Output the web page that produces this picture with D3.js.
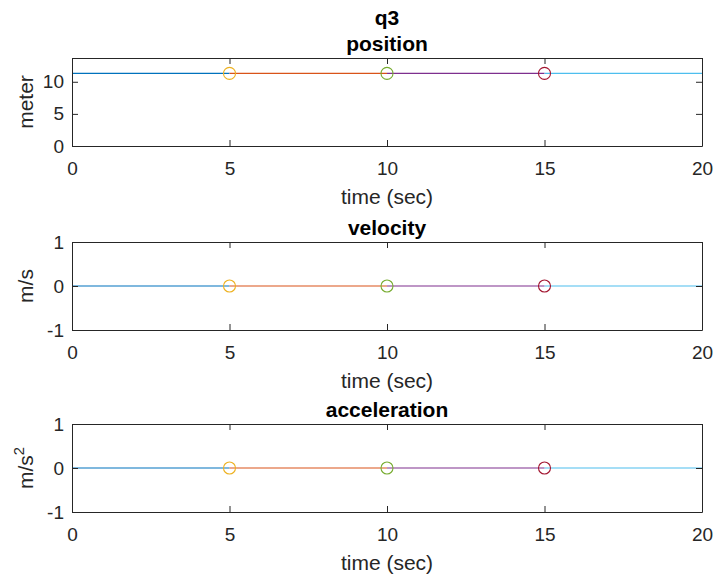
<!DOCTYPE html>
<html>
<head>
<meta charset="utf-8">
<script src="https://cdn.jsdelivr.net/npm/d3@7"></script>
<style>
  body { margin: 0; background: #fff; }
  svg { display: block; }
  text { font-family: "Liberation Sans", Arial, Helvetica, sans-serif; }
</style>
</head>
<body>
<script>
// Trajectory of joint q3: piecewise segments split at the via-point times
const breakTimes = [0, 5, 10, 15, 20];
const segmentColors = ["#0072BD", "#D95319", "#7E2F8E", "#4DBEEE"];
const markerTimes = [5, 10, 15];
const markerColors = ["#EDB120", "#77AC30", "#A2142F"];

const positionValues = [11.3, 11.3, 11.3, 11.3, 11.3];
const velocityValues = [0, 0, 0, 0, 0];
const accelerationValues = [0, 0, 0, 0, 0];

const xTicks = [0, 5, 10, 15, 20];
const positionTicks = [0, 5, 10];
const rateTicks = [-1, 0, 1];
const positionLimits = [0, 13.7];
const rateLimits = [-1, 1];

const W = 715, H = 577;
const left = 72, right = 702;
const plotH = 88;
const tickLen = 6;
const axisColor = "#262626";
const tickFont = 19, labelFont = 21, titleFont = 21;

const svg = d3.select("body").append("svg").attr("width", W).attr("height", H);

const x = d3.scaleLinear().domain([0, 20]).range([left, right]);
const fmt = d => String(d); // plain hyphen for negatives

const panels = [
  { title: "position", ylabel: "meter", values: positionValues, limits: positionLimits, ticks: positionTicks, top: 58 },
  { title: "velocity", ylabel: "m/s", values: velocityValues, limits: rateLimits, ticks: rateTicks, top: 242 },
  { title: "acceleration", ylabel: "m/s2", values: accelerationValues, limits: rateLimits, ticks: rateTicks, top: 424 }
];

// Figure title above the first axes
svg.append("text")
  .attr("x", (left + right) / 2).attr("y", 25)
  .attr("text-anchor", "middle")
  .attr("font-size", titleFont).attr("font-weight", "bold").attr("fill", "#000")
  .text("q3");

panels.forEach(p => {
  const bottom = p.top + plotH;
  const y = d3.scaleLinear().domain(p.limits).range([bottom, p.top]);
  const g = svg.append("g");

  // data segments
  const seg = d3.line().x(d => x(d[0])).y(d => y(d[1]));
  for (let i = 0; i < segmentColors.length; i++) {
    const pts = [[breakTimes[i], p.values[i]], [breakTimes[i + 1], p.values[i + 1]]];
    g.append("path").datum(pts)
      .attr("d", seg)
      .attr("fill", "none")
      .attr("stroke", segmentColors[i])
      .attr("stroke-width", 1.2);
  }

  // via-point markers
  markerTimes.forEach((t, i) => {
    const idx = breakTimes.indexOf(t);
    g.append("circle")
      .attr("cx", x(t)).attr("cy", y(p.values[idx]))
      .attr("r", 6)
      .attr("fill", "none")
      .attr("stroke", markerColors[i])
      .attr("stroke-width", 1.1);
  });

  // axes (ticks pointing inward, box on)
  const styleAxis = sel => {
    sel.attr("font-family", null).attr("font-size", null);
    sel.selectAll("path.domain").attr("stroke", axisColor).attr("stroke-width", 1);
    sel.selectAll(".tick line").attr("stroke", axisColor).attr("stroke-width", 1);
    sel.selectAll(".tick text")
      .attr("fill", axisColor)
      .attr("font-size", tickFont);
  };

  g.append("g").attr("transform", `translate(0,${bottom})`)
    .call(d3.axisBottom(x).tickValues(xTicks).tickSizeInner(-tickLen).tickSizeOuter(0).tickPadding(15.5).tickFormat(fmt))
    .call(styleAxis);
  g.append("g").attr("transform", `translate(0,${p.top})`)
    .call(d3.axisTop(x).tickValues(xTicks).tickSizeInner(-tickLen).tickSizeOuter(0).tickFormat(""))
    .call(styleAxis);
  g.append("g").attr("transform", `translate(${left},0)`)
    .call(d3.axisLeft(y).tickValues(p.ticks).tickSizeInner(-tickLen).tickSizeOuter(0).tickPadding(8).tickFormat(fmt))
    .call(styleAxis);
  g.append("g").attr("transform", `translate(${right},0)`)
    .call(d3.axisRight(y).tickValues(p.ticks).tickSizeInner(-tickLen).tickSizeOuter(0).tickFormat(""))
    .call(styleAxis);

  // axes title
  svg.append("text")
    .attr("x", (left + right) / 2).attr("y", p.top - 7.5)
    .attr("text-anchor", "middle")
    .attr("font-size", titleFont).attr("font-weight", "bold").attr("fill", "#000")
    .text(p.title);

  // x label
  svg.append("text")
    .attr("x", (left + right) / 2).attr("y", bottom + 58)
    .attr("text-anchor", "middle")
    .attr("font-size", labelFont).attr("fill", axisColor)
    .text("time (sec)");

  // y label (rotated)
  const yl = svg.append("text")
    .attr("transform", `translate(33,${(p.top + bottom) / 2}) rotate(-90)`)
    .attr("text-anchor", "middle")
    .attr("font-size", labelFont).attr("fill", axisColor);
  if (p.ylabel === "m/s2") {
    yl.append("tspan").text("m/s");
    yl.append("tspan").attr("dy", -9).attr("font-size", labelFont * 0.7).text("2");
  } else {
    yl.text(p.ylabel);
  }
});
</script>
</body>
</html>
